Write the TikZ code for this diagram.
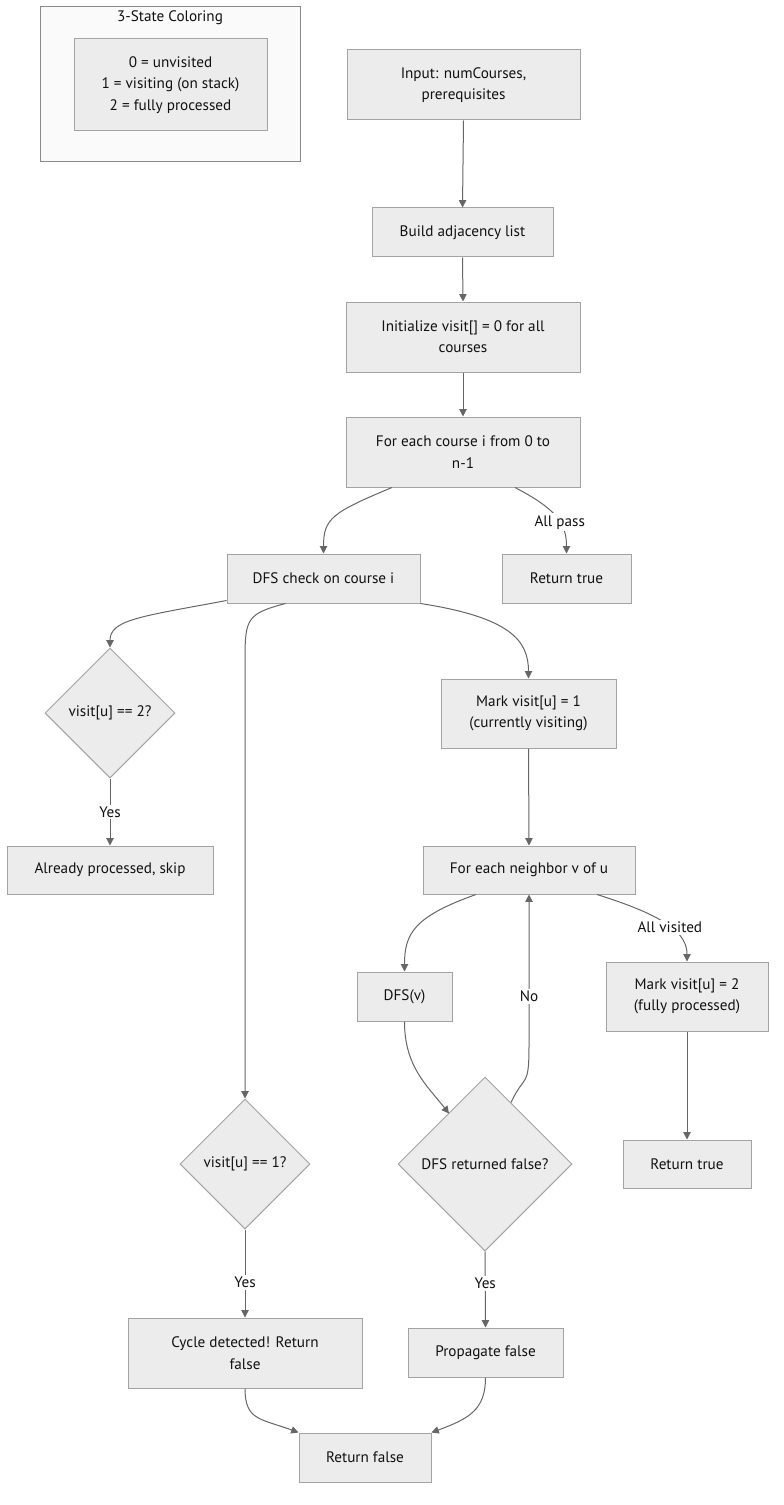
\documentclass[tikz,border=0pt]{standalone}
\usepackage{fontspec}
\setmainfont{PT Sans}
\usetikzlibrary{
  positioning,
  arrows.meta,
  calc,
  shapes.geometric
}
\definecolor{boxfill}{HTML}{ECECEC}
\definecolor{boxline}{HTML}{A3A3A3}
\definecolor{wire}{HTML}{666666}
\definecolor{legendfill}{HTML}{FAFAFA}
\definecolor{legendline}{HTML}{8A8A8A}
\definecolor{ink}{HTML}{111111}

\begin{document}
\begin{tikzpicture}[
  x=0.75pt, y=-0.75pt,
  font=\fontsize{11.4}{16}\selectfont,
  wh/.style 2 args={minimum width=#1*0.75pt, minimum height=#2*0.75pt},
  box/.style={draw=boxline, fill=boxfill, line width=0.75pt, align=center,
              text=ink, inner sep=0pt},
  dec/.style={box, diamond, aspect=1},
  lbl/.style={fill=white, text=ink, inner sep=1.5pt},
  arr/.style={-{Triangle[length=5.5pt, width=5.5pt]}, wire, line width=0.75pt}
]
  \useasboundingbox (0,0) rectangle (784,1505);

  % Legend
  \node[box, draw=legendline, fill=legendfill, wh={260}{155}] (legend) at (170,84.5) {};
  \node[text=ink] (legendtitle) at (170,18) {3-State Coloring};
  \node[box, wh={193}{92}] (states) at (170.5,85)
    {0 = unvisited\\1 = visiting (on stack)\\2 = fully processed};

  % Main loop
  \node[box, wh={233}{70}] (input) at (463.5,85) {Input: numCourses,\\prerequisites};
  \node[box, wh={181}{49}] (build) at (462.5,232.5) {Build adjacency list};
  \node[box, wh={234}{70}] (init) at (463,337) {Initialize visit[] = 0 for all\\courses};
  \node[box, wh={234}{70}] (loop) at (463,452) {For each course i from 0 to\\n-1};
  \node[box, wh={193}{49}] (dfs) at (323.5,578.5) {DFS check on course i};
  \node[box, wh={129}{49}] (rettop) at (566.5,578.5) {Return true};

  % DFS body
  \node[dec, wh={130}{130}] (seen) at (110,713) {visit[u] == 2?};
  \node[box, wh={206}{48}] (skip) at (110,870) {Already processed, skip};
  \node[box, wh={175}{69}] (mark1) at (528.5,713.5) {Mark visit[u] = 1\\(currently visiting)};
  \node[box, wh={212}{48}] (nbr) at (529,870) {For each neighbor v of u};
  \node[box, wh={95}{49}] (dfsv) at (404.5,996.5) {DFS(v)};
  \node[box, wh={162}{69}] (mark2) at (687,996.5) {Mark visit[u] = 2\\(fully processed)};
  \node[box, wh={128}{48}] (retbot) at (687,1164) {Return true};
  \node[dec, wh={130}{130}] (onstack) at (245,1164) {visit[u] == 1?};
  \node[dec, wh={174}{174}] (failed) at (485,1164) {DFS returned false?};
  \node[box, wh={234}{70}] (cycle) at (245,1353) {Cycle detected! Return\\false};
  \node[box, wh={155}{49}] (prop) at (485.5,1352.5) {Propagate false};
  \node[box, wh={132}{49}] (retfalse) at (365,1457.5) {Return false};

  % Connectors
  \draw[arr] (input.south) -- (build.north);
  \draw[arr] (build.south) -- (init.north);
  \draw[arr] (init.south) -- (loop.north);
  \draw[arr] ($(loop.south)+(-71,0)$) .. controls +(-60,25) and +(0,-35) .. (dfs.north);
  \draw[arr] ($(loop.south)+(52,0)$) .. controls +(42,22) and +(0,-30) .. (rettop.north)
    node[lbl, pos=0.58] (allpass) {All pass};
  \draw[arr] ($(dfs.south west)+(0,-3)$) .. controls +(-85,16) and +(0,-28) .. (seen.north);
  \draw[arr] ($(dfs.south)+(-38,0)$) .. controls +(-38,10) and +(0,-40) .. ($(onstack.north)+(0,-440)$)
    -- (onstack.north);
  \draw[arr] (dfs.south east) .. controls +(90,14) and +(0,-38) .. (mark1.north);
  \draw[arr] (seen.south) -- (skip.north) node[lbl, midway] (yes1) {Yes};
  \draw[arr] (mark1.south) -- (nbr.north);
  \draw[arr] ($(nbr.south)+(-53,0)$) .. controls +(-62,22) and +(0,-38) .. (dfsv.north);
  \draw[arr] ($(nbr.south)+(68,0)$) .. controls +(70,22) and +(0,-28) .. (mark2.north)
    node[lbl, pos=0.52] (allvisited) {All visited};
  \draw[arr] (dfsv.south) .. controls +(0,45) and +(-22,-28) .. ($(failed.north)+(-36,37)$);
  \draw[arr] ($(failed.north)+(26,26)$) .. controls +(14,-30) and +(0,45) .. ($(nbr.south)+(0,150)$)
    -- (nbr.south) node[lbl, pos=0.32] (no) {No};
  \draw[arr] (mark2.south) -- (retbot.north);
  \draw[arr] (onstack.south) -- (cycle.north) node[lbl, pos=0.6] (yes2) {Yes};
  \draw[arr] (failed.south) -- (prop.north) node[lbl, pos=0.42] (yes3) {Yes};
  \draw[arr] (cycle.south) .. controls +(0,32) and +(-38,-14) .. (retfalse.north west);
  \draw[arr] (prop.south) .. controls +(0,32) and +(38,-14) .. (retfalse.north east);
\end{tikzpicture}
\end{document}
